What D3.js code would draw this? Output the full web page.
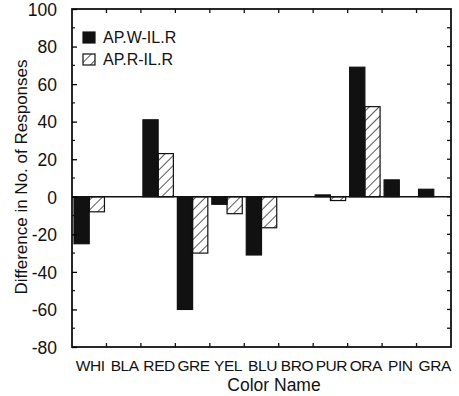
<!DOCTYPE html>
<html>
<head>
<meta charset="utf-8">
<script src="https://cdn.jsdelivr.net/npm/d3@7"></script>
<style>
  body { margin: 0; background: #fff; }
  svg text { font-family: Arial, "Liberation Sans", Helvetica, sans-serif; fill: #111; }
</style>
</head>
<body>
<div id="chart"></div>
<script>
"use strict";

// chart data
const categories = ["WHI", "BLA", "RED", "GRE", "YEL", "BLU", "BRO", "PUR", "ORA", "PIN", "GRA"];
const seriesNames = ["AP.W-IL.R", "AP.R-IL.R"];
const apWvalues = [-25, 0, 41, -60, -4, -31, 0, 1, 69, 9, 4];
const apRvalues = [-8, 0, 23, -30, -9, -16.5, 0, -2, 48, 0, 0];
const yTicks = [100, 80, 60, 40, 20, 0, -20, -40, -60, -80];

const svgWidth = 459, svgHeight = 396;
const margin = { top: 9, right: 8, bottom: 49, left: 72 },
    width = svgWidth - margin.left - margin.right,
    height = svgHeight - margin.top - margin.bottom;

const svg = d3.select("#chart").append("svg")
    .attr("width", svgWidth)
    .attr("height", svgHeight);

// hatch pattern for the second series
const defs = svg.append("defs");
defs.append("pattern")
    .attr("id", "hatch")
    .attr("patternUnits", "userSpaceOnUse")
    .attr("width", 7)
    .attr("height", 7)
    .attr("patternTransform", "rotate(45)")
    .append("line")
    .attr("x1", 0).attr("y1", 0)
    .attr("x2", 0).attr("y2", 7)
    .attr("stroke", "#111")
    .attr("stroke-width", 1.4);

const g = svg.append("g")
    .attr("transform", "translate(" + margin.left + "," + margin.top + ")");

const x = d3.scaleBand().domain(categories).range([0, width]).padding(0);
const x1 = d3.scaleBand().domain(seriesNames).range([2, x.bandwidth() - 2]).padding(0);
const y = d3.scaleLinear().domain([-80, 100]).range([height, 0]);

const rows = categories.map((c, i) => ({ cat: c, vals: [apWvalues[i], apRvalues[i]] }));

// bars
const groups = g.append("g").selectAll("g")
    .data(rows)
    .enter().append("g")
    .attr("transform", d => "translate(" + x(d.cat) + ",0)");

groups.selectAll("rect")
    .data(d => d.vals.map((v, k) => ({ name: seriesNames[k], v: v })))
    .enter().append("rect")
    .filter(d => d.v !== 0)
    .attr("x", d => x1(d.name))
    .attr("width", x1.bandwidth())
    .attr("y", d => y(Math.max(0, d.v)))
    .attr("height", d => Math.abs(y(d.v) - y(0)))
    .attr("fill", d => d.name === seriesNames[0] ? "#111" : "url(#hatch)")
    .attr("stroke", "#111")
    .attr("stroke-width", 1.2);

// zero line
g.append("line")
    .attr("x1", 0).attr("x2", width)
    .attr("y1", y(0)).attr("y2", y(0))
    .attr("stroke", "#111").attr("stroke-width", 1.5);

// frame
g.append("rect")
    .attr("width", width).attr("height", height)
    .attr("fill", "none").attr("stroke", "#111").attr("stroke-width", 1.8);

// left axis: major labels, inward ticks
const yAxis = g.append("g")
    .call(d3.axisLeft(y).tickValues(yTicks).tickFormat(d => String(d))
        .tickSize(-5).tickSizeOuter(0).tickPadding(15));
yAxis.select(".domain").remove();
yAxis.selectAll("text").style("font-size", "17.5px").attr("dy", "0.36em");
yAxis.selectAll("line").attr("stroke-width", 1.3);

// minor ticks (every 10) left and right
const minor = d3.range(-70, 100, 20);
g.append("g").selectAll("line").data(minor).enter().append("line")
    .attr("x1", 0).attr("x2", 3)
    .attr("y1", d => y(d)).attr("y2", d => y(d))
    .attr("stroke", "#111").attr("stroke-width", 1.2);
g.append("g").selectAll("line").data(d3.range(-70, 100, 10)).enter().append("line")
    .attr("x1", width).attr("x2", width - 4)
    .attr("y1", d => y(d)).attr("y2", d => y(d))
    .attr("stroke", "#111").attr("stroke-width", 1.3);

// category boundary ticks top and bottom
const bounds = categories.slice(1).map(c => x(c));
g.append("g").selectAll("line").data(bounds).enter().append("line")
    .attr("x1", d => d).attr("x2", d => d)
    .attr("y1", height).attr("y2", height - 4)
    .attr("stroke", "#111").attr("stroke-width", 1.3);
g.append("g").selectAll("line").data(bounds).enter().append("line")
    .attr("x1", d => d).attr("x2", d => d)
    .attr("y1", 0).attr("y2", 4)
    .attr("stroke", "#111").attr("stroke-width", 1.3);

// category labels
g.append("g").selectAll("text").data(categories).enter().append("text")
    .attr("x", d => x(d) + x.bandwidth() / 2 + 1)
    .attr("y", height + 24)
    .attr("text-anchor", "middle")
    .style("font-size", "15.5px")
    .style("letter-spacing", "-0.4px")
    .text(d => d);

// axis titles
g.append("text")
    .attr("x", 202)
    .attr("y", height + 44)
    .attr("text-anchor", "middle")
    .style("font-size", "17.5px")
    .text("Color Name");

svg.append("text")
    .attr("transform", "translate(27," + 177 + ") rotate(-90)")
    .attr("text-anchor", "middle")
    .style("font-size", "17px")
    .text("Difference in No. of Responses");

// legend
const legend = g.append("g").attr("transform", "translate(11,23)");
seriesNames.forEach((s, i) => {
    legend.append("rect")
        .attr("x", 0).attr("y", i * 22)
        .attr("width", 12).attr("height", 11)
        .attr("fill", i === 0 ? "#111" : "url(#hatch)")
        .attr("stroke", "#111").attr("stroke-width", 1.2);
    legend.append("text")
        .attr("x", 20).attr("y", i * 22 + 11)
        .style("font-size", "16px")
        .text(s);
});
</script>
</body>
</html>
